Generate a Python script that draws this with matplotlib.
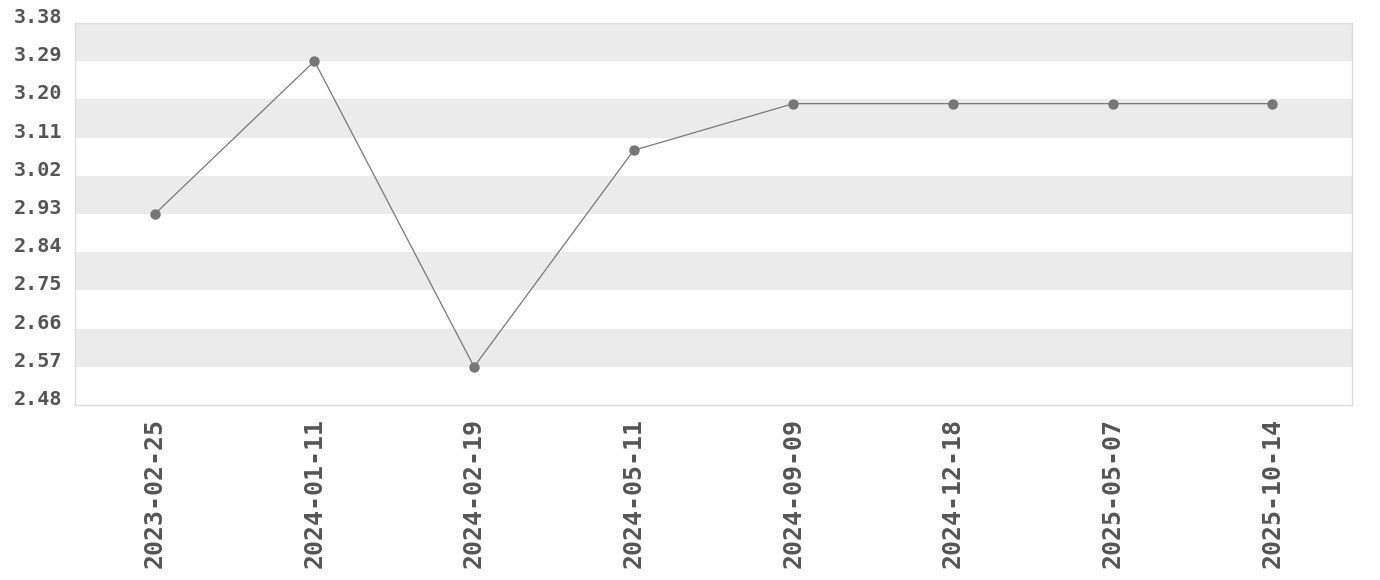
import matplotlib.pyplot as plt

dates = ['2023-02-25', '2024-01-11', '2024-02-19', '2024-05-11',
         '2024-09-09', '2024-12-18', '2025-05-07', '2025-10-14']
values = [2.93, 3.29, 2.57, 3.08, 3.19, 3.19, 3.19, 3.19]
yticks = [2.48, 2.57, 2.66, 2.75, 2.84, 2.93, 3.02, 3.11, 3.20, 3.29, 3.38]

fig = plt.figure(figsize=(13.8, 5.8), dpi=100)
ax = fig.add_axes([75 / 1380, 1 - 405 / 580, 1277 / 1380, 382 / 580])

# alternating bands, gray on top
for i in range(len(yticks) - 1):
    if (len(yticks) - 2 - i) % 2 == 0:
        ax.axhspan(yticks[i], yticks[i + 1], color='#ebebeb', lw=0, zorder=0)

x = range(len(dates))
ax.plot(x, values, color='#777777', lw=0.9, marker='o', ms=6.5, zorder=3)

ax.set_xlim(-0.5, len(dates) - 0.5)
ax.set_ylim(yticks[0], yticks[-1])
ax.set_yticks(yticks)
ax.set_yticklabels([f'{v:.2f}' for v in yticks])
ax.set_xticks(list(x))
ax.set_xticklabels(dates, rotation=90)

for lab in ax.get_yticklabels():
    lab.set_fontfamily('DejaVu Sans Mono')
    lab.set_fontweight('bold')
    lab.set_fontsize(14.5)
    lab.set_color('#555555')
    lab.set_verticalalignment('baseline')
for lab in ax.get_xticklabels():
    lab.set_fontfamily('DejaVu Sans Mono')
    lab.set_fontweight('bold')
    lab.set_fontsize(18)
    lab.set_color('#555555')

ax.tick_params(axis='both', length=0)
ax.tick_params(axis='y', pad=9)
ax.tick_params(axis='x', pad=9)
for s in ax.spines.values():
    s.set_color('#dddddd')
    s.set_linewidth(1)

fig.savefig('out.png', dpi=100)
